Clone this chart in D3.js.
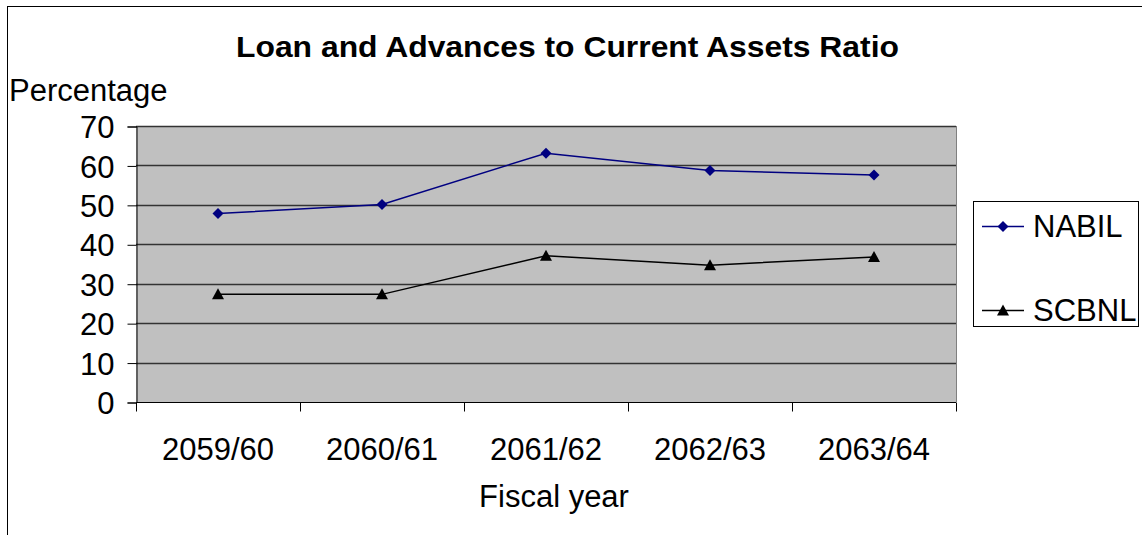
<!DOCTYPE html>
<html><head><meta charset="utf-8">
<script src="https://cdn.jsdelivr.net/npm/d3@7"></script>
<style>
html,body{margin:0;padding:0;background:#fff;}
svg{display:block;font-family:"Liberation Sans",Arial,sans-serif;}
</style></head>
<body>
<svg id="chart" width="1142" height="535"></svg>
<script>
const categories = ["2059/60","2060/61","2061/62","2062/63","2063/64"];
const nabil = [47.8, 50.1, 63.1, 58.7, 57.6];
const scbnl = [27.3, 27.3, 37.1, 34.7, 36.8];
const yTicks = [0,10,20,30,40,50,60,70];
const seriesNames = ["NABIL","SCBNL"];
const seriesColors = ["#000080","#000000"];

const FONT = "'Liberation Sans', Arial, sans-serif";
const svg = d3.select("#chart");
const plot = {left:136, right:956, top:126, bottom:402};

// outer chart border
svg.append("rect").attr("x",7.5).attr("y",6.5).attr("width",1200).attr("height",600)
  .attr("fill","#fff").attr("stroke","#000").attr("stroke-width",1);

const x = d3.scaleBand().domain(categories).range([plot.left, plot.right]).padding(0);
const y = d3.scaleLinear().domain([0,70]).range([plot.bottom, plot.top]);

// plot background
svg.append("rect").attr("x",plot.left).attr("y",plot.top)
  .attr("width",plot.right-plot.left).attr("height",plot.bottom-plot.top)
  .attr("fill","#C0C0C0");

// gridlines
svg.append("g").selectAll("line").data(yTicks.filter(d=>d>0)).join("line")
  .attr("x1",plot.left).attr("x2",plot.right)
  .attr("y1",d=>Math.round(y(d))+0.5).attr("y2",d=>Math.round(y(d))+0.5)
  .attr("stroke","#333").attr("stroke-width",1.3);

// right border of plot
svg.append("line").attr("x1",plot.right+0.5).attr("x2",plot.right+0.5)
  .attr("y1",plot.top).attr("y2",plot.bottom).attr("stroke","#808080").attr("stroke-width",1);

// y axis
const yAxis = d3.axisLeft(y).tickValues(yTicks).tickSize(9).tickPadding(13);
const gy = svg.append("g").attr("transform",`translate(${plot.left+0.5},0.5)`).call(yAxis);
gy.attr("font-family",FONT);
gy.select(".domain").attr("stroke","#000");
gy.selectAll(".tick line").attr("stroke","#000");
gy.selectAll("text").attr("font-size",31).attr("fill","#000")
  .attr("font-family",FONT).attr("dy","0.36em");

// x axis with ticks at category boundaries
const gx = svg.append("g").attr("transform",`translate(0,${plot.bottom+0.5})`);
gx.append("line").attr("x1",plot.left).attr("x2",plot.right).attr("stroke","#000");
const bounds = categories.map(c=>x(c)).concat([plot.right]);
gx.selectAll("line.tk").data(bounds).join("line").attr("class","tk")
  .attr("x1",d=>Math.round(d)+0.5).attr("x2",d=>Math.round(d)+0.5)
  .attr("y1",0).attr("y2",9).attr("stroke","#000");
gx.selectAll("text").data(categories).join("text")
  .attr("x",d=>x(d)+x.bandwidth()/2).attr("y",57)
  .attr("text-anchor","middle").attr("font-size",31).attr("fill","#000")
  .attr("font-family",FONT).text(d=>d);

// titles
svg.append("text").attr("x",567.5).attr("y",57).attr("text-anchor","middle")
  .attr("font-family",FONT)
  .attr("font-size",30).attr("font-weight","bold").attr("textLength",663)
  .attr("lengthAdjust","spacingAndGlyphs")
  .text("Loan and Advances to Current Assets Ratio");
svg.append("text").attr("x",9).attr("y",101).attr("font-size",31).attr("font-family",FONT).text("Percentage");
svg.append("text").attr("x",554).attr("y",507).attr("text-anchor","middle")
  .attr("font-size",31).attr("font-family",FONT).text("Fiscal year");

// series
const data = [nabil, scbnl];
const line = d3.line().x((d,i)=>x(categories[i])+x.bandwidth()/2).y(d=>y(d));

function marker(g, si, cx, cy){
  if(si===0){
    g.append("path").attr("d","M0,-5.5L5.5,0L0,5.5L-5.5,0Z")
      .attr("transform",`translate(${cx},${cy})`).attr("fill",seriesColors[0]);
  } else {
    g.append("path").attr("d","M0,-6L6,5L-6,5Z")
      .attr("transform",`translate(${cx},${cy})`).attr("fill",seriesColors[1]);
  }
}

data.forEach((vals,si)=>{
  svg.append("path").datum(vals).attr("d",line).attr("fill","none")
    .attr("stroke",seriesColors[si]).attr("stroke-width",1.5);
  const g = svg.append("g");
  vals.forEach((v,i)=>marker(g, si, x(categories[i])+x.bandwidth()/2, y(v)));
});

// legend
svg.append("rect").attr("x",973.5).attr("y",201.5).attr("width",165).attr("height",125)
  .attr("fill","#fff").attr("stroke","#000").attr("stroke-width",1);
const legY = [226, 310];
const legTextY = [237, 321];
seriesNames.forEach((n,si)=>{
  const lg = svg.append("g");
  lg.append("line").attr("x1",982).attr("x2",1024).attr("y1",legY[si]+0.5).attr("y2",legY[si]+0.5)
    .attr("stroke",seriesColors[si]).attr("stroke-width",1.3);
  marker(lg, si, 1003, legY[si]+0.5);
  lg.append("text").attr("x",1033).attr("y",legTextY[si]).attr("font-size",31)
    .attr("font-family",FONT).text(n);
});
</script>
</body></html>
